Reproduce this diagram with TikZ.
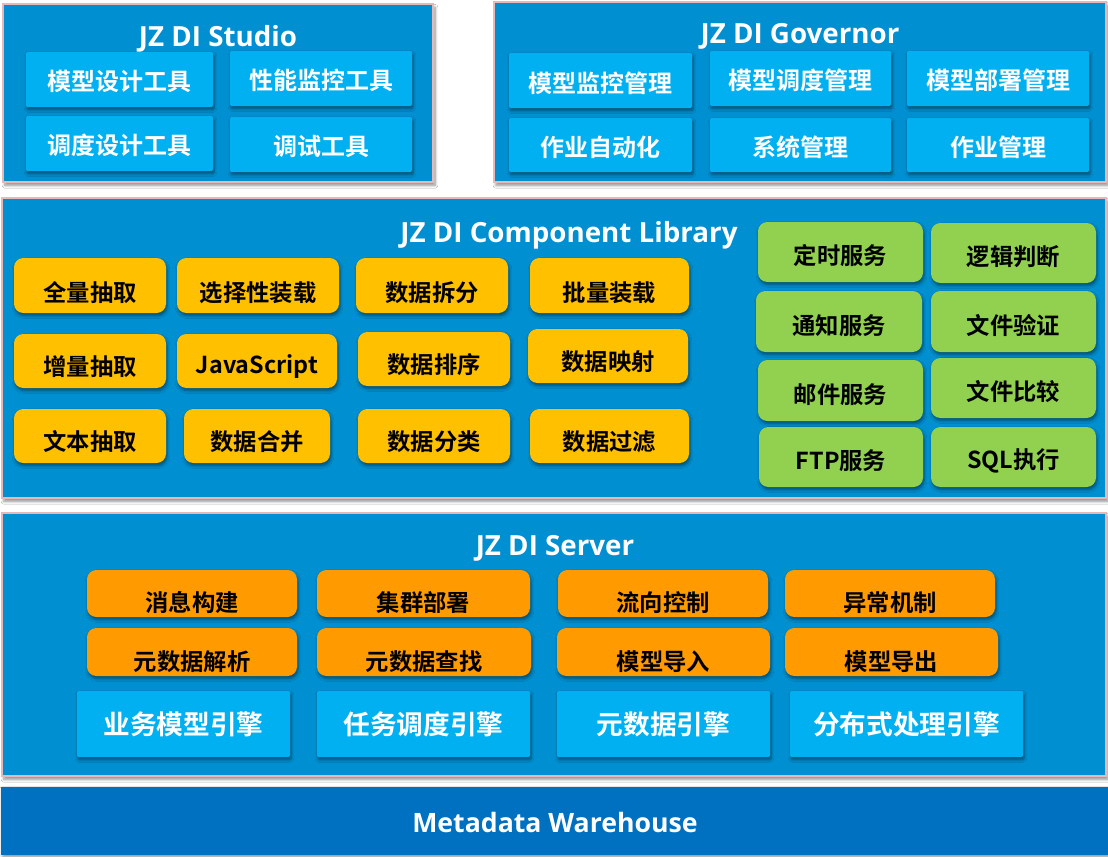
\documentclass[tikz,border=0pt]{standalone}
\usepackage{fontspec}
\setmainfont{Noto Sans CJK SC}[BoldFont={Noto Sans CJK SC Bold}]
\newfontfamily\titlefont{Open Sans}
\usetikzlibrary{shadows.blur}
\definecolor{panelfill}{HTML}{008FD0}
\definecolor{panelborder}{HTML}{E6B9B8}
\definecolor{lbox}{HTML}{00B0F0}
\definecolor{ybox}{HTML}{FFC000}
\definecolor{obox}{HTML}{FF9A00}
\definecolor{gbox}{HTML}{92D050}
\definecolor{wbar}{HTML}{0070C0}
\tikzset{
  panel/.style={draw=panelborder, line width=1.5pt, fill=panelfill, inner sep=0pt,
    blur shadow={shadow xshift=1.5pt, shadow yshift=-2.5pt, shadow blur steps=6, shadow opacity=45}},
  boxshadow/.style={blur shadow={shadow xshift=0.8pt, shadow yshift=-2pt, shadow blur steps=5, shadow opacity=45}},
  lb/.style={fill=lbox, rounded corners=1pt, inner sep=0pt, boxshadow},
  lb text/.style={text=white, font=\fontsize{18}{20}\selectfont\bfseries, inner sep=0pt},
  eb/.style={fill=lbox, rounded corners=1pt, inner sep=0pt, boxshadow},
  eb text/.style={text=white, font=\fontsize{20}{22}\selectfont\bfseries, inner sep=0pt},
  yb/.style={fill=ybox, rounded corners=7pt, inner sep=0pt, boxshadow},
  yb text/.style={text=black, font=\fontsize{17.5}{20}\selectfont\bfseries, inner sep=0pt},
  gb/.style={fill=gbox, rounded corners=7pt, inner sep=0pt, boxshadow},
  gb text/.style={text=black, font=\fontsize{17.5}{20}\selectfont\bfseries, inner sep=0pt},
  ob/.style={fill=obox, rounded corners=7pt, inner sep=0pt, boxshadow},
  ob text/.style={text=black, font=\fontsize{17.5}{20}\selectfont\bfseries, inner sep=0pt},
  ptitle/.style={text=white, font=\titlefont\fontsize{20.8}{24}\selectfont\bfseries, inner sep=0pt},
  wtitle/.style={text=white, font=\titlefont\fontsize{20}{24}\selectfont\bfseries, inner sep=0pt},
}
% #1 name, #2 style, #3 x1, #4 y1, #5 x2, #6 y2, #7 text shift (px down), #8 text
\newcommand\mybox[8]{%
  \node[#2, minimum width={(#5-#3)*0.75pt}, minimum height={(#6-#4)*0.75pt}] (#1) at ({(#3+#5)/2},{(#4+#6)/2}) {};
  \node[#2 text] (#1t) at ([yshift={-(#7)*0.75pt}]#1.center) {#8};
}
\newcommand\mypanel[5]{%
  \node[panel, minimum width={(#4-#2)*0.75pt}, minimum height={(#5-#3)*0.75pt}] (#1) at ({(#2+#4)/2},{(#3+#5)/2}) {};
}
\begin{document}
\begin{tikzpicture}[x=0.75pt,y=-0.75pt]
\useasboundingbox (0,0) rectangle (1108,857);
\fill[white] (0,0) rectangle (1108,857);

% panels
\mypanel{studio}{3}{4}{433}{182}
\mypanel{governor}{494}{2}{1106}{182}
\mypanel{library}{2}{198}{1106}{498}
\mypanel{server}{2}{513}{1106}{776}
\node[fill=wbar, inner sep=0pt, minimum width={1107*0.75pt}, minimum height={68*0.75pt},
  blur shadow={shadow xshift=1pt, shadow yshift=-2pt, shadow blur steps=5, shadow opacity=40}] (warehouse) at (554.5,821) {};

% titles
\node[ptitle] (studiot) at (218,39) {JZ DI Studio};
\node[ptitle] (governort) at (800,36) {JZ DI Governor};
\node[ptitle] (libraryt) at (569,235) {JZ DI Component Library};
\node[ptitle] (servert) at (555,548) {JZ DI Server};
\node[wtitle] (warehouset) at (555,822) {Metadata Warehouse};

% Studio
\mybox{s1}{lb}{26}{52}{213}{107}{2}{模型设计工具}
\mybox{s2}{lb}{230}{51}{412}{106}{2}{性能监控工具}
\mybox{s3}{lb}{26}{116}{213}{171}{2}{调度设计工具}
\mybox{s4}{lb}{230}{117}{412}{172}{2}{调试工具}

% Governor
\mybox{g1}{lb}{509}{53}{692}{108}{3}{模型监控管理}
\mybox{g2}{lb}{710}{51}{891}{106}{2}{模型调度管理}
\mybox{g3}{lb}{907}{51}{1089}{106}{2}{模型部署管理}
\mybox{g4}{lb}{509}{118}{692}{172}{2}{作业自动化}
\mybox{g5}{lb}{710}{118}{891}{172}{2}{系统管理}
\mybox{g6}{lb}{907}{118}{1089}{172}{2}{作业管理}

% Component library - yellow
\mybox{y1}{yb}{14}{258}{166}{313}{7}{全量抽取}
\mybox{y2}{yb}{177}{258}{339}{313}{7}{选择性装载}
\mybox{y3}{yb}{356}{258}{508}{313}{7}{数据拆分}
\mybox{y4}{yb}{530}{258}{689}{313}{7}{批量装载}
\mybox{y5}{yb}{14}{334}{166}{388}{6}{增量抽取}
\mybox{y6}{yb}{177}{334}{337}{388}{6}{JavaScript}
\mybox{y7}{yb}{358}{332}{510}{386}{6}{数据排序}
\mybox{y8}{yb}{528}{329}{688}{383}{6}{数据映射}
\mybox{y9}{yb}{14}{409}{166}{463}{6}{文本抽取}
\mybox{y10}{yb}{184}{409}{330}{463}{6}{数据合并}
\mybox{y11}{yb}{358}{409}{510}{463}{6}{数据分类}
\mybox{y12}{yb}{530}{409}{689}{463}{6}{数据过滤}

% Component library - green
\mybox{c1}{gb}{758}{222}{923}{282}{4}{定时服务}
\mybox{c2}{gb}{931}{223}{1096}{283}{4}{逻辑判断}
\mybox{c3}{gb}{756}{291}{922}{352}{4}{通知服务}
\mybox{c4}{gb}{931}{291}{1096}{352}{4}{文件验证}
\mybox{c5}{gb}{758}{360}{923}{421}{4}{邮件服务}
\mybox{c6}{gb}{931}{358}{1096}{418}{4}{文件比较}
\mybox{c7}{gb}{759}{427}{923}{487}{4}{FTP服务}
\mybox{c8}{gb}{931}{427}{1096}{487}{4}{SQL执行}

% Server - orange
\mybox{o1}{ob}{87}{570}{297}{617}{9}{消息构建}
\mybox{o2}{ob}{317}{570}{530}{617}{9}{集群部署}
\mybox{o3}{ob}{558}{570}{768}{617}{9}{流向控制}
\mybox{o4}{ob}{785}{570}{995}{617}{9}{异常机制}
\mybox{o5}{ob}{87}{628}{297}{676}{10}{元数据解析}
\mybox{o6}{ob}{317}{628}{531}{676}{10}{元数据查找}
\mybox{o7}{ob}{557}{628}{770}{676}{10}{模型导入}
\mybox{o8}{ob}{785}{628}{998}{676}{10}{模型导出}

% Server - engines
\mybox{e1}{eb}{77}{691}{290}{757}{0}{业务模型引擎}
\mybox{e2}{eb}{317}{691}{530}{757}{0}{任务调度引擎}
\mybox{e3}{eb}{557}{691}{770}{757}{0}{元数据引擎}
\mybox{e4}{eb}{790}{691}{1023}{757}{0}{分布式处理引擎}
\end{tikzpicture}
\end{document}
